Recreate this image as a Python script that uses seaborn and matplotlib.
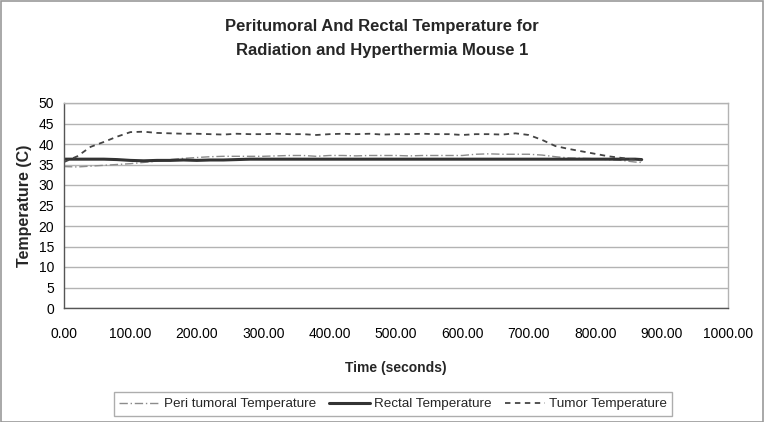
import numpy as np
import pandas as pd
import matplotlib
matplotlib.use("Agg")
import matplotlib.pyplot as plt
import seaborn as sns
from matplotlib.patches import Rectangle

time_s = [0, 20, 40, 60, 80, 100, 120, 140, 160, 180, 200, 220, 240, 260, 280, 300,
          320, 340, 360, 380, 400, 420, 440, 460, 480, 500, 520, 540, 560, 580, 600,
          620, 640, 660, 680, 700, 720, 740, 760, 780, 800, 820, 840, 860, 870]

tumor_temp = [35.6, 37.0, 39.3, 40.5, 41.8, 42.9, 43.0, 42.7, 42.6, 42.5, 42.5, 42.4,
              42.3, 42.5, 42.4, 42.4, 42.5, 42.4, 42.4, 42.2, 42.4, 42.5, 42.4, 42.5,
              42.3, 42.4, 42.4, 42.5, 42.4, 42.4, 42.2, 42.4, 42.4, 42.3, 42.6, 42.2,
              41.0, 39.5, 38.8, 38.2, 37.6, 37.0, 36.6, 36.2, 36.0]

peri_temp = [34.5, 34.4, 34.6, 34.8, 35.0, 35.2, 35.5, 35.8, 36.2, 36.5, 36.7, 36.9,
             37.0, 37.0, 37.0, 37.0, 37.1, 37.2, 37.2, 37.0, 37.2, 37.2, 37.1, 37.2,
             37.2, 37.2, 37.1, 37.2, 37.2, 37.2, 37.2, 37.5, 37.6, 37.5, 37.5, 37.5,
             37.3, 36.9, 36.6, 36.5, 36.4, 36.2, 36.0, 35.6, 35.5]

rectal_temp = [36.3, 36.3, 36.3, 36.3, 36.2, 36.0, 35.9, 36.0, 36.0, 36.1, 36.0, 36.1,
               36.1, 36.2, 36.3, 36.3, 36.3, 36.3, 36.3, 36.3, 36.3, 36.3, 36.3, 36.3,
               36.3, 36.3, 36.3, 36.3, 36.3, 36.3, 36.3, 36.3, 36.3, 36.3, 36.3, 36.3,
               36.3, 36.3, 36.3, 36.3, 36.3, 36.3, 36.3, 36.3, 36.2]

series_names = ["Peri tumoral Temperature", "Rectal Temperature", "Tumor Temperature"]
title_lines = ["Peritumoral And Rectal Temperature for",
               "Radiation and Hyperthermia Mouse 1"]
x_label = "Time (seconds)"
y_label = "Temperature (C)"

sns.set_style("white")
plt.rcParams["font.family"] = ["Liberation Sans", "DejaVu Sans"]

df = pd.DataFrame({"Time": time_s, series_names[0]: peri_temp,
                   series_names[1]: rectal_temp, series_names[2]: tumor_temp})

fig = plt.figure(figsize=(7.64, 4.22), dpi=100)
ax = fig.add_axes([64 / 764, 1 - 308 / 422, (728 - 64) / 764, (308 - 103) / 422])

styles = {
    series_names[0]: dict(color="#8c8c8c", lw=1.0, dashes=(6, 2, 1, 2)),
    series_names[1]: dict(color="#333333", lw=2.2),
    series_names[2]: dict(color="#444444", lw=1.3, dashes=(3, 2.5)),
}
for name in series_names:
    st = dict(styles[name])
    dashes = st.pop("dashes", None)
    sns.lineplot(data=df, x="Time", y=name, ax=ax, label=name, **st)
    if dashes is not None:
        ax.lines[-1].set_dashes(dashes)

ax.set_xlim(0, 1000)
ax.set_ylim(0, 50)
ax.set_xticks(np.arange(0, 1001, 100))
ax.set_xticklabels([f"{v:.2f}" for v in np.arange(0, 1001, 100)])
ax.set_yticks(np.arange(0, 51, 5))
ax.yaxis.grid(True, color="#b3b3b3", lw=1.0)
ax.set_axisbelow(True)
for s in ["top", "right"]:
    ax.spines[s].set_color("#b3b3b3")
    ax.spines[s].set_linewidth(1.0)
for s in ["left", "bottom"]:
    ax.spines[s].set_color("#555555")
    ax.spines[s].set_linewidth(1.0)
ax.tick_params(axis="both", direction="out", length=4, width=1, color="#555555",
               labelsize=10, labelcolor="black", pad=3)
ax.tick_params(axis="x", pad=10)
ax.set_xlabel(x_label, fontsize=10, fontweight="bold", labelpad=14)
ax.set_ylabel(y_label, fontsize=11.5, fontweight="bold", labelpad=5)

for line_text, base_px in zip(title_lines, [31, 55]):
    fig.text(0.5, 1 - base_px / 422, line_text, ha="center", va="baseline",
             fontsize=12, fontweight="bold")

ax.get_legend().remove()
handles = ax.lines[:3]
leg = fig.legend(handles, series_names, loc="center", ncol=3,
                 bbox_to_anchor=(393 / 764, 1 - 404 / 422), frameon=True,
                 fontsize=9.7, handlelength=3.0, handletextpad=0.3,
                 columnspacing=1.0, borderpad=0.4, fancybox=False)
leg.get_frame().set_edgecolor("#999999")
leg.get_frame().set_linewidth(1.0)

fig.patches.append(Rectangle((0.0008, 0.001), 0.9975, 0.997, transform=fig.transFigure,
                             fill=False, edgecolor="#999999", lw=1.2))

fig.savefig("out.png", dpi=100)
